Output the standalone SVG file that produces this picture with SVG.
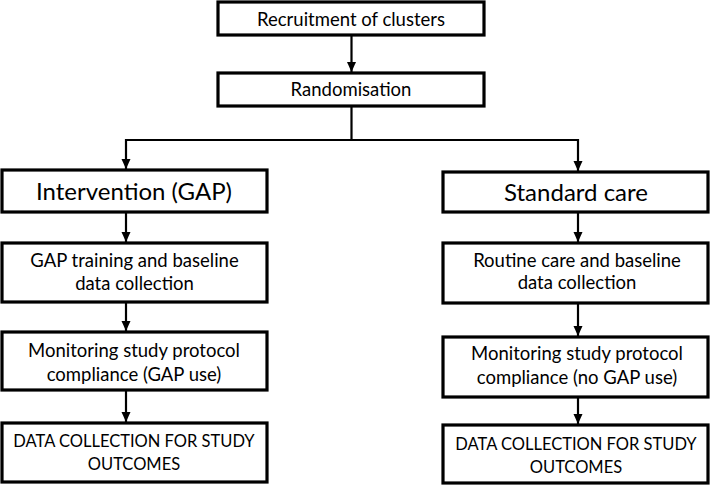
<svg xmlns="http://www.w3.org/2000/svg" width="712" height="486" viewBox="0 0 712 486">
<style>
.box{fill:#fff;stroke:#000;stroke-width:3.2}
.t{font-family:Lato,"Open Sans",sans-serif;font-size:18.5px;fill:#000;text-anchor:middle}
.big{font-size:24px}
.caps{font-size:16.5px}
.c{fill:none;stroke:#000;stroke-width:2.2}
</style>
<defs>
<marker id="ah" markerUnits="userSpaceOnUse" markerWidth="10" markerHeight="10" viewBox="0 0 10 10" refX="10" refY="5" orient="auto">
<path d="M0,0.5 L10,5 L0,9.5 Z" fill="#000"/>
</marker>
</defs>
<rect width="712" height="486" fill="#fff"/>
<g id="connectors">
<path class="c" d="M351.5,35 V72" marker-end="url(#ah)"/>
<path class="c" d="M351.5,106 V140 M125,140 H579"/>
<path class="c" d="M126,139 V169" marker-end="url(#ah)"/>
<path class="c" d="M578,139 V171" marker-end="url(#ah)"/>
<path class="c" d="M126,212 V242" marker-end="url(#ah)"/>
<path class="c" d="M126,302 V331" marker-end="url(#ah)"/>
<path class="c" d="M126,390 V422" marker-end="url(#ah)"/>
<path class="c" d="M578,212 V242" marker-end="url(#ah)"/>
<path class="c" d="M578,303 V336" marker-end="url(#ah)"/>
<path class="c" d="M578,397 V424" marker-end="url(#ah)"/>
</g>
<g id="recruitment">
<rect class="box" x="218" y="2" width="266" height="33"/>
<text class="t" x="351" y="26">Recruitment of clusters</text>
</g>
<g id="randomisation">
<rect class="box" x="218" y="73" width="266" height="33"/>
<text class="t" x="351" y="96">Randomisation</text>
</g>
<g id="intervention">
<rect class="box" x="2" y="170" width="265" height="42"/>
<text class="t big" x="134" y="200">Intervention (GAP)</text>
</g>
<g id="standard">
<rect class="box" x="443" y="172" width="265" height="40"/>
<text class="t big" x="576" y="201">Standard care</text>
</g>
<g id="gap-training">
<rect class="box" x="2" y="243" width="265" height="59"/>
<text class="t" x="134.5" y="267">GAP training and baseline</text>
<text class="t" x="134.5" y="290">data collection</text>
</g>
<g id="routine-care">
<rect class="box" x="443" y="243" width="265" height="60"/>
<text class="t" x="577" y="267">Routine care and baseline</text>
<text class="t" x="577" y="289">data collection</text>
</g>
<g id="monitoring-gap">
<rect class="box" x="2" y="332" width="265" height="58"/>
<text class="t" x="134" y="357">Monitoring study protocol</text>
<text class="t" x="134" y="381">compliance (GAP use)</text>
</g>
<g id="monitoring-nogap">
<rect class="box" x="443" y="337" width="265" height="60"/>
<text class="t" x="577" y="360">Monitoring study protocol</text>
<text class="t" x="577" y="384">compliance (no GAP use)</text>
</g>
<g id="data-left">
<rect class="box" x="2" y="423" width="265" height="59"/>
<text class="t caps" x="134" y="447">DATA COLLECTION FOR STUDY</text>
<text class="t caps" x="134" y="470">OUTCOMES</text>
</g>
<g id="data-right">
<rect class="box" x="443" y="425" width="265" height="58"/>
<text class="t caps" x="576" y="450">DATA COLLECTION FOR STUDY</text>
<text class="t caps" x="576" y="473">OUTCOMES</text>
</g>
</svg>
